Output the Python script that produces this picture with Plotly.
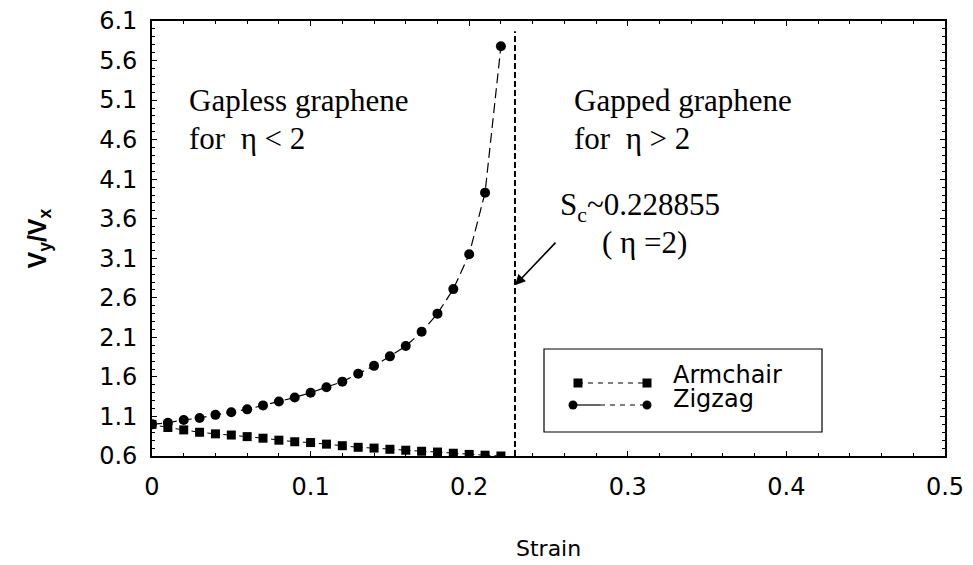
import plotly.graph_objects as go

# Strain values and velocity ratio for the two edge orientations
strain = [0.00, 0.01, 0.02, 0.03, 0.04, 0.05, 0.06, 0.07, 0.08, 0.09, 0.10, 0.11,
          0.12, 0.13, 0.14, 0.15, 0.16, 0.17, 0.18, 0.19, 0.20, 0.21, 0.22]
armchair = [1.00, 0.96, 0.93, 0.90, 0.88, 0.865, 0.845, 0.825, 0.80, 0.78, 0.77, 0.75,
            0.73, 0.71, 0.70, 0.685, 0.673, 0.66, 0.65, 0.635, 0.62, 0.61, 0.60]
zigzag = [1.00, 1.02, 1.056, 1.08, 1.12, 1.153, 1.19, 1.24, 1.29, 1.34, 1.40, 1.47,
          1.54, 1.64, 1.74, 1.86, 1.99, 2.17, 2.40, 2.71, 3.15, 3.93, 5.78]

critical_strain = 0.228855
critical_top = 5.97

x_ticks = [0, 0.1, 0.2, 0.3, 0.4, 0.5]
x_tick_text = ["0", "0.1", "0.2", "0.3", "0.4", "0.5"]
y_ticks = [0.6, 1.1, 1.6, 2.1, 2.6, 3.1, 3.6, 4.1, 4.6, 5.1, 5.6, 6.1]
y_tick_text = ["0.6", "1.1", "1.6", "2.1", "2.6", "3.1", "3.6", "4.1", "4.6", "5.1", "5.6", "6.1"]

series_names = ["Armchair", "Zigzag"]

W, H = 973, 565
L, R, T, B = 152, 28, 21, 109
SANS = "Liberation Sans, Arial, sans-serif"
WIDE = "DejaVu Sans, Verdana, sans-serif"
SERIF = "Liberation Serif, Times New Roman, serif"


def px(p):
    """Horizontal pixel position -> paper fraction."""
    return (p - L) / (W - L - R)


def py(p):
    """Vertical pixel position -> paper fraction."""
    return (H - B - p) / (H - T - B)


fig = go.Figure()

fig.add_trace(go.Scatter(
    x=strain, y=armchair, name=series_names[0], mode="lines+markers",
    line=dict(color="black", width=1, dash="4px,4px"),
    marker=dict(symbol="square", size=9, color="black"),
    showlegend=False,
))
fig.add_trace(go.Scatter(
    x=strain, y=zigzag, name=series_names[1], mode="lines+markers",
    line=dict(color="black", width=1.2, dash="10px,5px"),
    marker=dict(symbol="circle", size=10, color="black"),
    showlegend=False,
))

shapes = []
# critical strain marker
shapes.append(dict(type="line", xref="x", yref="y",
                   x0=critical_strain, x1=critical_strain, y0=0.6, y1=critical_top,
                   line=dict(color="black", width=2, dash="6px,3px")))

# legend box
lx0, lx1, ly0, ly1 = 544, 822, 349, 432
shapes.append(dict(type="rect", xref="paper", yref="paper",
                   x0=px(lx0), x1=px(lx1), y0=py(ly1), y1=py(ly0),
                   line=dict(color="black", width=1.2), fillcolor="white"))

# legend sample: armchair
ra = 383
shapes.append(dict(type="line", xref="paper", yref="paper",
                   x0=px(578), x1=px(647), y0=py(ra), y1=py(ra),
                   line=dict(color="black", width=1, dash="5px,5px")))
for cx in (578, 647):
    shapes.append(dict(type="rect", xref="paper", yref="paper",
                       x0=px(cx - 4.5), x1=px(cx + 4.5), y0=py(ra + 4.5), y1=py(ra - 4.5),
                       line=dict(width=0), fillcolor="black"))
# legend sample: zigzag
rz = 405
shapes.append(dict(type="line", xref="paper", yref="paper",
                   x0=px(573), x1=px(600), y0=py(rz), y1=py(rz),
                   line=dict(color="black", width=1.2)))
shapes.append(dict(type="line", xref="paper", yref="paper",
                   x0=px(600), x1=px(647), y0=py(rz), y1=py(rz),
                   line=dict(color="black", width=1.2, dash="5px,5px")))
for cx in (573, 647):
    shapes.append(dict(type="circle", xref="paper", yref="paper",
                       x0=px(cx - 4.5), x1=px(cx + 4.5), y0=py(rz + 4.5), y1=py(rz - 4.5),
                       line=dict(width=0), fillcolor="black"))

annotations = []
serif_font = dict(family=SERIF, size=31, color="black")
for x, y, txt in [
    (0.0221, 5.10, "Gapless graphene"),
    (0.0221, 4.62, "for\u00a0\u00a0\u03b7 < 2"),
    (0.2646, 5.10, "Gapped graphene"),
    (0.2646, 4.62, "for\u00a0\u00a0\u03b7 > 2"),
    (0.256, 3.75, "S<sub>c</sub>~0.228855"),
    (0.2825, 3.30, "(\u00a0\u03b7\u00a0=2)"),
]:
    annotations.append(dict(x=x, y=y, xref="x", yref="y", text=txt, showarrow=False,
                            xanchor="left", yanchor="middle", font=serif_font))

# arrow pointing at the critical strain line
annotations.append(dict(x=critical_strain, y=2.76, xref="x", yref="y", text="",
                        showarrow=True, ax=42, ay=-44, axref="pixel", ayref="pixel",
                        arrowhead=2, arrowsize=1.3, arrowwidth=1.6, arrowcolor="black"))

legend_font = dict(family=WIDE, size=24, color="black")
annotations.append(dict(x=px(671), y=py(375), xref="paper", yref="paper",
                        text=series_names[0], showarrow=False,
                        xanchor="left", yanchor="middle", font=legend_font))
annotations.append(dict(x=px(671), y=py(399), xref="paper", yref="paper",
                        text=series_names[1], showarrow=False,
                        xanchor="left", yanchor="middle", font=legend_font))

# axis titles placed in the margins
annotations.append(dict(x=0.5, y=py(548), xref="paper", yref="paper",
                        text="Strain", showarrow=False,
                        xanchor="center", yanchor="middle",
                        font=dict(family=WIDE, size=22, color="black")))
annotations.append(dict(x=px(38), y=0.5, xref="paper", yref="paper",
                        text="<b>V<sub>y</sub>/V<sub>x</sub></b>", showarrow=False,
                        textangle=-90, xanchor="center", yanchor="middle",
                        font=dict(family=SANS, size=25, color="black")))

axis_common = dict(
    showline=True, linecolor="black", linewidth=1.6, mirror="ticks",
    ticks="inside", ticklen=5, tickwidth=1.3, tickcolor="black",
    showgrid=False, zeroline=False, automargin=False,
    tickfont=dict(family=WIDE, size=24, color="black"),
)

fig.update_layout(
    width=W, height=H,
    margin=dict(l=L, r=R, t=T, b=B, autoexpand=False),
    paper_bgcolor="white", plot_bgcolor="white",
    shapes=shapes, annotations=annotations,
    xaxis=dict(
        range=[0, 0.5], tickvals=x_ticks, ticktext=x_tick_text,
        minor=dict(ticks="inside", ticklen=3, tickwidth=1, tickcolor="black",
                   dtick=0.02, tick0=0),
        ticklabelstandoff=8,
        **axis_common,
    ),
    yaxis=dict(
        range=[0.6, 6.1], tickvals=y_ticks, ticktext=y_tick_text,
        minor=dict(ticks="inside", ticklen=3, tickwidth=1, tickcolor="black",
                   dtick=0.1, tick0=0.6),
        ticklabelstandoff=8,
        **axis_common,
    ),
)

fig.write_html("out.html")
